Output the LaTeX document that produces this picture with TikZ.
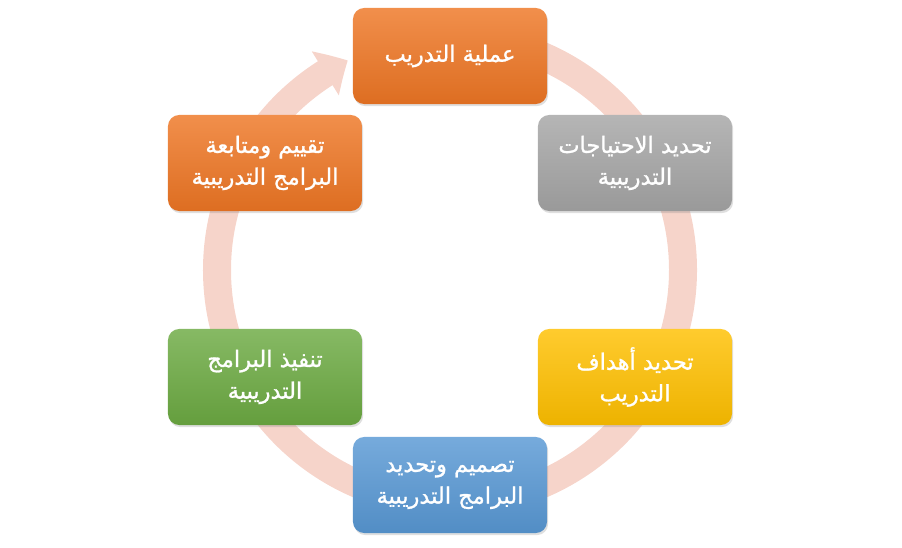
\documentclass[tikz,border=0pt]{standalone}
\usepackage{fontspec}
\usetikzlibrary{arrows.meta,bending,shadows}
\newfontfamily\arabicfont[Script=Arabic,FakeBold=1.2]{DejaVu Sans}
\TeXXeTstate=1
\definecolor{corange}{RGB}{238,118,36}
\definecolor{cgray}{RGB}{165,165,165}
\definecolor{cyellow}{RGB}{255,192,0}
\definecolor{cblue}{RGB}{88,152,212}
\definecolor{cgreen}{RGB}{108,170,66}
\definecolor{cring}{RGB}{246,212,202}
\tikzset{
  stp/.style={rounded corners=8pt, minimum width=4.85cm, minimum height=2.4cm,
              align=center, text=white, font=\arabicfont\fontsize{16}{22.5}\selectfont,
              top color=#1!82!white, bottom color=#1!93!black,
              drop shadow={shadow xshift=0.8pt, shadow yshift=-1.5pt, opacity=0.25}},
  ring/.style={cring, line width=0.7cm,
               -{Triangle[width=1.25cm, length=0.65cm, bend]}},
}

\begin{document}
\begin{tikzpicture}[x=0.025cm, y=0.025cm]
    \useasboundingbox (0,0) rectangle (902,547);
    \coordinate (mid) at (450,277);
    % the cycle
    \draw[ring] (mid) ++(88:233) arc[start angle=88, end angle=-244, radius=233];
    % the steps
    \node[stp=corange] (proc) at (450,491) {\beginR عملية التدريب\endR};
    \node[stp=cgray]   (need) at (635,384) {\beginR تحديد الاحتياجات\endR\\\beginR التدريبية\endR};
    \node[stp=cyellow] (goal) at (635,170) {\beginR تحديد أهداف\endR\\\beginR التدريب\endR};
    \node[stp=cblue]   (plan) at (450,62)  {\beginR تصميم وتحديد\endR\\\beginR البرامج التدريبية\endR};
    \node[stp=cgreen]  (run)  at (265,170) {\beginR تنفيذ البرامج\endR\\\beginR التدريبية\endR};
    \node[stp=corange] (eval) at (265,384) {\beginR تقييم ومتابعة\endR\\\beginR البرامج التدريبية\endR};
\end{tikzpicture}
\end{document}
